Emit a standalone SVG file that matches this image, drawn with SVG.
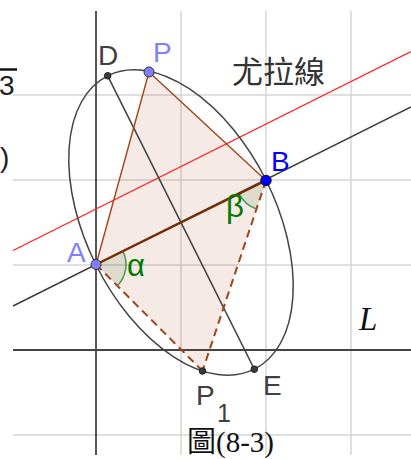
<svg xmlns="http://www.w3.org/2000/svg" width="411" height="459" viewBox="0 0 411 459">
<style>
.grid{stroke:#d6d6d6;stroke-width:1.5;fill:none}
.lbl{font-family:"Liberation Sans",Arial,"Noto Sans CJK TC",sans-serif;font-size:28px}
.dark{fill:#404040}
.green{fill:#007a00;font-size:31px}
.edge{stroke:#a0451a;stroke-width:1.4;fill:none}
.dash{stroke:#a0451a;stroke-width:2;fill:none;stroke-dasharray:8 5}
.small{fill:#3a3a3a;stroke:#222;stroke-width:1}
.wedge{fill:#005a00;fill-opacity:0.1;stroke:none}
.arc{fill:none;stroke:#2e8b2e;stroke-width:1.6;stroke-opacity:0.8}
</style>
<rect width="411" height="459" fill="#ffffff"/>
<g id="grid">
<line class="grid" x1="181" y1="11" x2="181" y2="455"/>
<line class="grid" x1="266" y1="11" x2="266" y2="455"/>
<line class="grid" x1="351" y1="11" x2="351" y2="455"/>
<line class="grid" x1="13" y1="95" x2="411" y2="95"/>
<line class="grid" x1="13" y1="180" x2="411" y2="180"/>
<line class="grid" x1="13" y1="265" x2="411" y2="265"/>
<line class="grid" x1="13" y1="435" x2="411" y2="435"/>
</g>
<g id="axes">
<line x1="96" y1="11" x2="96" y2="455" stroke="#1e1e1e" stroke-width="1.5"/>
<line x1="13" y1="350" x2="411" y2="350" stroke="#454545" stroke-width="1.8"/>
</g>
<g id="quad-fill">
<polygon points="96,264.5 149,72 266,180.5 202.5,371" fill="#993300" fill-opacity="0.1"/>
</g>
<g id="angles">
<path class="wedge" d="M96,264.5 L122.83,251.08 A30,30 0 0 1 117.21,285.71 Z"/>
<path class="arc" d="M122.83,251.08 A30,30 0 0 1 117.21,285.71"/>
<path class="wedge" d="M266,180.5 L256.51,208.96 A30,30 0 0 1 239.17,193.92 Z"/>
<path class="arc" d="M256.51,208.96 A30,30 0 0 1 239.17,193.92"/>
</g>
<g id="connectors">
<line id="euler-line" x1="13" y1="250.5" x2="411" y2="51.5" stroke="#ff2020" stroke-width="1.3"/>
<line id="line-AB" x1="13" y1="306" x2="411" y2="107" stroke="#3c3c3c" stroke-width="1.5"/>
<ellipse id="ellipse" cx="181" cy="222.5" rx="164" ry="95" transform="rotate(63.435 181 222.5)" fill="none" stroke="#444" stroke-width="1.5"/>
<line id="DE" x1="107.7" y1="75.8" x2="254.3" y2="369.2" stroke="#444" stroke-width="1.5"/>
<line class="edge" x1="96" y1="264.5" x2="149" y2="72"/>
<line class="edge" x1="149" y1="72" x2="266" y2="180.5"/>
<line class="dash" x1="96" y1="264.5" x2="202.5" y2="371"/>
<line class="dash" x1="266" y1="180.5" x2="202.5" y2="371"/>
<line x1="96" y1="264.5" x2="266" y2="180.5" stroke="#7a2c05" stroke-width="2.2"/>
</g>
<g id="node-D"><circle class="small" cx="107.7" cy="75.8" r="3.3"/><text class="lbl dark" x="98" y="65">D</text></g>
<g id="node-P"><circle cx="149" cy="72" r="5" fill="#7f7fff" stroke="#333" stroke-width="1"/><text class="lbl" x="153" y="62" fill="#7f7fff">P</text></g>
<g id="node-A"><circle cx="96" cy="264.5" r="5" fill="#7f7fff" stroke="#333" stroke-width="1"/><text class="lbl" x="67" y="262" fill="#7f7fff">A</text></g>
<g id="node-B"><circle cx="266" cy="180.5" r="5.2" fill="#0000ff" stroke="#111" stroke-width="1"/><text class="lbl" x="271" y="171" fill="#0000ff">B</text></g>
<g id="node-E"><circle class="small" cx="254.3" cy="369.2" r="3.3"/><text class="lbl dark" x="263" y="395">E</text></g>
<g id="node-P1"><circle class="small" cx="202.5" cy="371" r="3.3"/><text class="lbl dark" x="196" y="405">P</text><text class="lbl dark" x="217" y="422" style="font-size:25px">1</text></g>
<g id="label-alpha"><text class="lbl green" x="127" y="276">α</text></g>
<g id="label-beta"><text class="lbl green" x="226" y="217">β</text></g>
<g id="label-euler"><text x="232" y="83" fill="#333" style="font-family:'Noto Sans CJK TC','Noto Sans CJK SC',sans-serif;font-size:31px">尤拉線</text></g>
<g id="label-L"><text x="359" y="330" fill="#111" style="font-family:'Liberation Serif','Times New Roman',serif;font-style:italic;font-size:33px">L</text></g>
<g id="caption"><text x="187" y="452" fill="#111" style="font-family:'Liberation Serif','Noto Sans CJK TC',serif;font-size:29px">圖(8-3)</text></g>
<g id="edge-fragments">
<line x1="0" y1="69.5" x2="17" y2="69.5" stroke="#111" stroke-width="2.5"/>
<text class="lbl" x="-1" y="95" fill="#222">3</text>
<text class="lbl" x="0" y="167" fill="#222">)</text>
</g>
</svg>
